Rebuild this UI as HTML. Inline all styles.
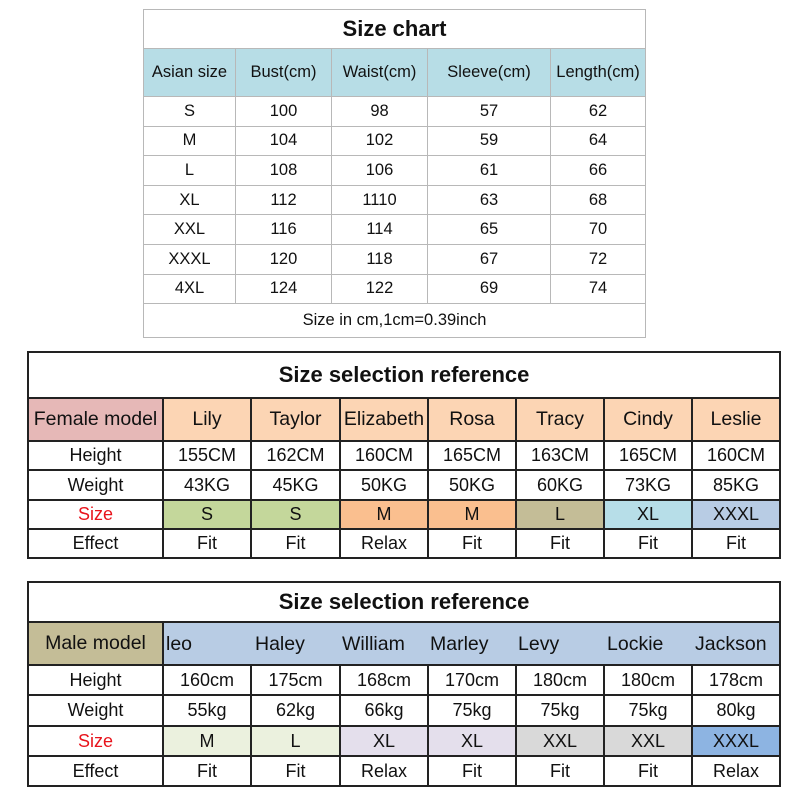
<!DOCTYPE html>
<html><head><meta charset="utf-8"><style>
body{margin:0;width:800px;height:800px;background:#fff;position:relative;overflow:hidden;font-family:"Liberation Sans",Arial,sans-serif;color:#111}
table{position:absolute;border-collapse:collapse;table-layout:fixed}
td{text-align:center;padding:0;white-space:nowrap;overflow:hidden}
#t1{left:143px;top:9px;width:502px}
#t1 td{border:1px solid #b8b8b8;font-size:16.5px}
#t1 .ttl{font-size:22px;font-weight:bold;height:38px}
#t1 .hd td{background:#b7dde6;height:47px}
#t1 .r td{height:28.6px}
.big{border:2px solid #222}
.big td{border:2px solid #222;font-size:18px}
.big .hr td{font-size:19.5px}
.big .ttl{font-size:22px;font-weight:bold}
#t2{left:27px;top:351px;width:752px}
#t3{left:27px;top:581px;width:752px}
.red{color:#e8141c}
</style></head><body>
<table id="t1">
<colgroup><col style="width:92px"><col style="width:96px"><col style="width:96px"><col style="width:123px"><col style="width:95px"></colgroup>
<tr><td colspan="5" class="ttl">Size chart</td></tr>
<tr class="hd"><td>Asian size</td><td>Bust(cm)</td><td>Waist(cm)</td><td>Sleeve(cm)</td><td>Length(cm)</td></tr>
<tr class="r"><td>S</td><td>100</td><td>98</td><td>57</td><td>62</td></tr>
<tr class="r"><td>M</td><td>104</td><td>102</td><td>59</td><td>64</td></tr>
<tr class="r"><td>L</td><td>108</td><td>106</td><td>61</td><td>66</td></tr>
<tr class="r"><td>XL</td><td>112</td><td>1110</td><td>63</td><td>68</td></tr>
<tr class="r"><td>XXL</td><td>116</td><td>114</td><td>65</td><td>70</td></tr>
<tr class="r"><td>XXXL</td><td>120</td><td>118</td><td>67</td><td>72</td></tr>
<tr class="r"><td>4XL</td><td>124</td><td>122</td><td>69</td><td>74</td></tr>
<tr><td colspan="5" style="height:33px">Size in cm,1cm=0.39inch</td></tr>
</table>

<table id="t2" class="big">
<colgroup><col style="width:135px"><col style="width:88px"><col style="width:89px"><col style="width:88px"><col style="width:88px"><col style="width:88px"><col style="width:88px"><col style="width:88px"></colgroup>
<tr><td colspan="8" class="ttl" style="height:44px">Size selection reference</td></tr>
<tr class="hr" style="height:43px"><td style="background:#e6b8b7">Female model</td><td style="background:#fcd5b4">Lily</td><td style="background:#fcd5b4">Taylor</td><td style="background:#fcd5b4">Elizabeth</td><td style="background:#fcd5b4">Rosa</td><td style="background:#fcd5b4">Tracy</td><td style="background:#fcd5b4">Cindy</td><td style="background:#fcd5b4">Leslie</td></tr>
<tr style="height:29px"><td>Height</td><td>155CM</td><td>162CM</td><td>160CM</td><td>165CM</td><td>163CM</td><td>165CM</td><td>160CM</td></tr>
<tr style="height:30px"><td>Weight</td><td>43KG</td><td>45KG</td><td>50KG</td><td>50KG</td><td>60KG</td><td>73KG</td><td>85KG</td></tr>
<tr style="height:29px"><td class="red">Size</td><td style="background:#c4d79b">S</td><td style="background:#c4d79b">S</td><td style="background:#fabf8f">M</td><td style="background:#fabf8f">M</td><td style="background:#c4bd97">L</td><td style="background:#b7dee8">XL</td><td style="background:#b8cce4">XXXL</td></tr>
<tr style="height:29px"><td>Effect</td><td>Fit</td><td>Fit</td><td>Relax</td><td>Fit</td><td>Fit</td><td>Fit</td><td>Fit</td></tr>
</table>

<table id="t3" class="big">
<colgroup><col style="width:135px"><col style="width:88px"><col style="width:89px"><col style="width:88px"><col style="width:88px"><col style="width:88px"><col style="width:88px"><col style="width:88px"></colgroup>
<tr><td colspan="8" class="ttl" style="height:38px">Size selection reference</td></tr>
<tr class="hr" style="height:43px"><td style="background:#c4bd97">Male model</td><td colspan="7" style="background:#b8cce4;border-right:none;position:relative;text-align:left">
<span style="position:absolute;left:2px;top:10px">leo</span>
<span style="position:absolute;left:91px;top:10px">Haley</span>
<span style="position:absolute;left:178px;top:10px">William</span>
<span style="position:absolute;left:266px;top:10px">Marley</span>
<span style="position:absolute;left:354px;top:10px">Levy</span>
<span style="position:absolute;left:443px;top:10px">Lockie</span>
<span style="position:absolute;left:531px;top:10px">Jackson</span></td></tr>
<tr style="height:30px"><td>Height</td><td>160cm</td><td>175cm</td><td>168cm</td><td>170cm</td><td>180cm</td><td>180cm</td><td>178cm</td></tr>
<tr style="height:31px"><td>Weight</td><td>55kg</td><td>62kg</td><td>66kg</td><td>75kg</td><td>75kg</td><td>75kg</td><td>80kg</td></tr>
<tr style="height:30px"><td class="red">Size</td><td style="background:#ebf1de">M</td><td style="background:#ebf1de">L</td><td style="background:#e4dfec">XL</td><td style="background:#e4dfec">XL</td><td style="background:#d9d9d9">XXL</td><td style="background:#d9d9d9">XXL</td><td style="background:#8db4e2">XXXL</td></tr>
<tr style="height:30px"><td>Effect</td><td>Fit</td><td>Fit</td><td>Relax</td><td>Fit</td><td>Fit</td><td>Fit</td><td>Relax</td></tr>
</table>
</body></html>
